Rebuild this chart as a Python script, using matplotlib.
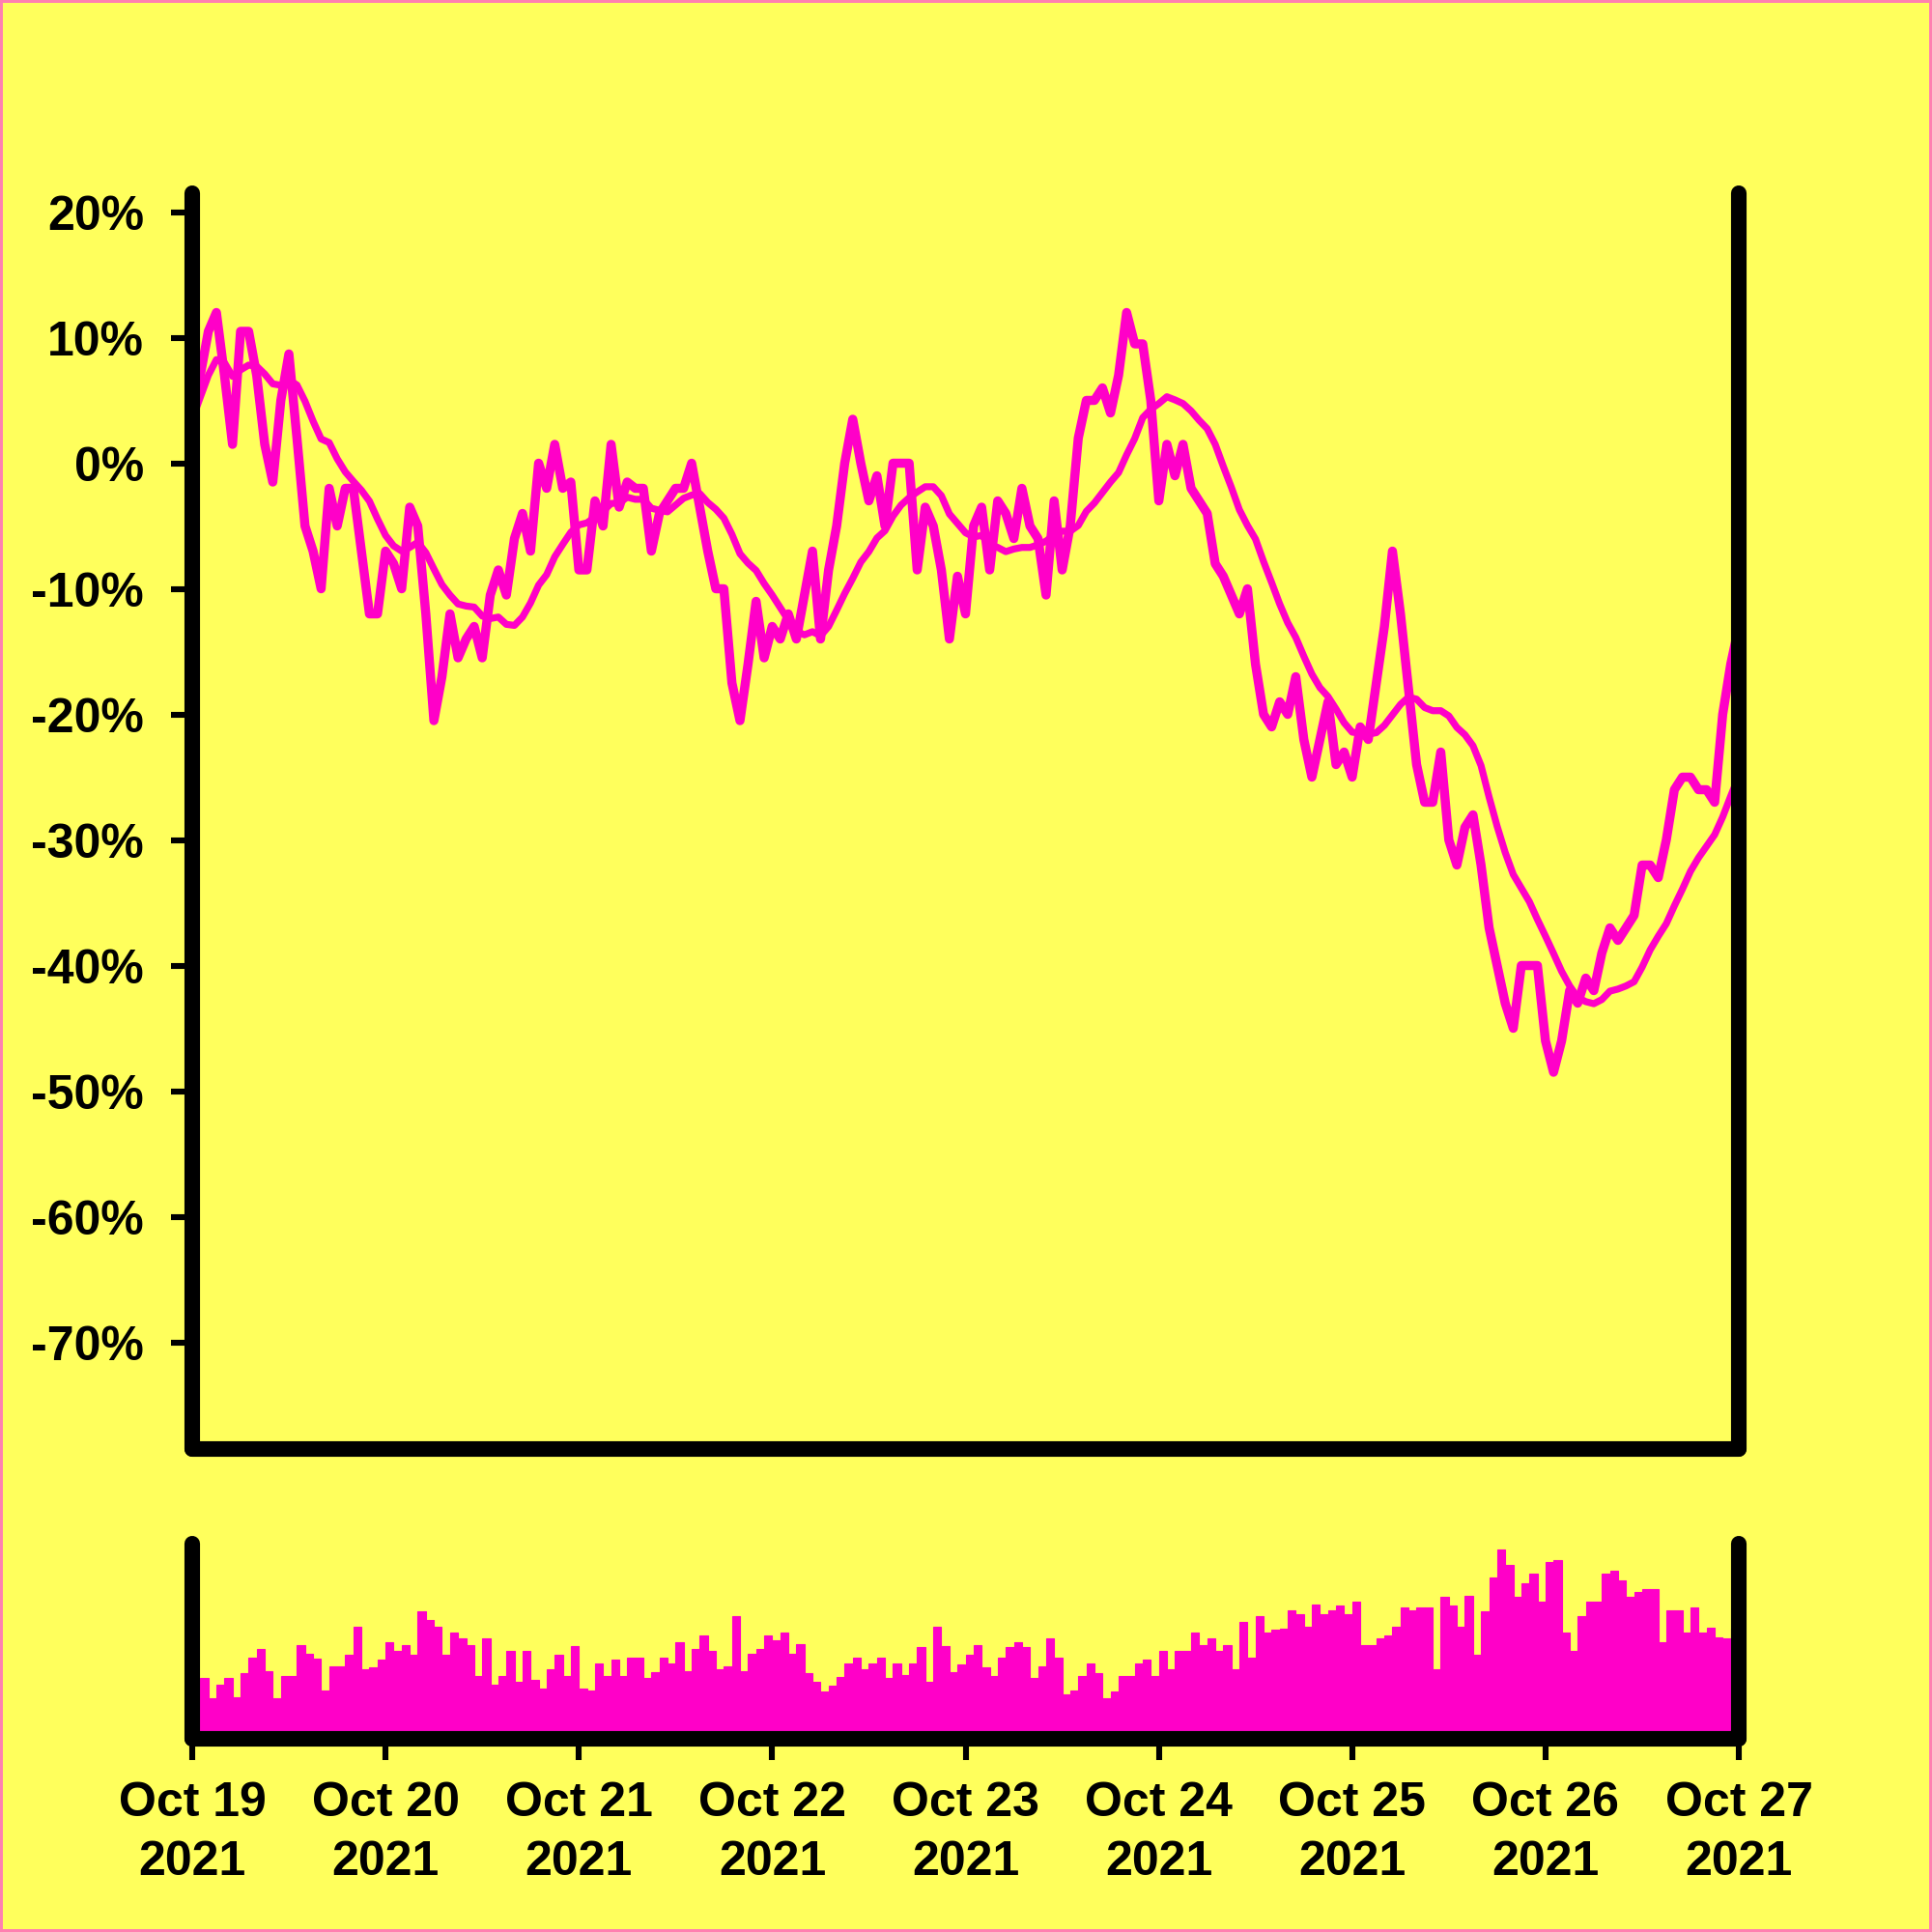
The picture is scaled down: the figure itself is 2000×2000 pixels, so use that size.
import numpy as np
import pandas as pd
import matplotlib
matplotlib.use("Agg")
import matplotlib.pyplot as plt
import matplotlib.dates as mdates

plt.rcParams['font.family'] = ['Liberation Sans', 'DejaVu Sans']
plt.rcParams['font.weight'] = 'bold'

BG = '#ffff5c'
PINK = '#ff00c8'

# -----------------------
# Data (hourly, Oct 19 00:00 -> Oct 27 00:00)
# -----------------------
start = pd.Timestamp('2021-10-19 00:00')
end = pd.Timestamp('2021-10-27 00:00')

change_pct = [
    # Oct 19
    3.5, 7, 10.5, 12, 7, 1.5, 10.5, 10.5, 7, 1.5, -1.5, 5,
    8.7, 2, -5, -7, -10, -2, -5, -2, -2, -7, -12, -12,
    -7, -8,
    # Oct 20
    -10, -3.5, -5, -12, -20.5, -17, -12, -15.5, -14, -13, -15.5,
    -10.5, -8.5, -10.5, -6, -4, -7, 0, -2, 1.5, -2, -1.5, -8.5,
    # Oct 21
    -8.5, -3, -5, 1.5, -3.5, -1.5, -2, -2, -7, -4, -3, -2,
    -2, 0, -3.5, -7, -10, -10, -17.5, -20.5, -16, -11, -15.5, -13,
    # Oct 22
    -14, -12, -14, -10.5, -7, -14, -8.5, -5, 0, 3.5, 0, -3,
    -1, -5, 0, 0, 0, -8.5, -3.5, -5, -8.5, -14, -9, -12,
    # Oct 23
    -5, -3.5, -8.5, -3, -4, -6, -2, -5, -6, -10.5, -3, -8.5,
    -5, 2, 5, 5, 6, 4, 7, 12, 9.5, 9.5, 5, -3,
    # Oct 24
    1.5, -1, 1.5, -2, -3, -4, -8, -9, -10.5, -12, -10, -16,
    -20, -21, -19, -20, -17, -22, -25, -22, -19, -24, -23, -25,
    # Oct 25
    -21, -22, -17.5, -13, -7, -12, -18, -24, -27, -27, -23, -30,
    -32, -29, -28, -32, -37, -40, -43, -45, -40, -40, -40, -46,
    # Oct 26
    -48.5, -46, -42, -43, -41, -42, -39, -37, -38, -37, -36, -32,
    -32, -33, -30, -26, -25, -25, -26, -26, -27, -20, -16, -13,
    -17,
]

volume = [
    # Oct 19
    41, 49, 33, 44, 49, 34, 53, 66, 73, 55, 33, 51,
    51, 76, 69, 65, 39, 59, 59, 68, 91, 56, 58, 64,
    # Oct 20
    78, 71, 76, 68, 103, 96, 91, 68, 86, 81, 76, 51,
    81, 44, 51, 71, 46, 71, 48, 41, 56, 68, 51, 75,
    # Oct 21
    41, 39, 61, 51, 64, 51, 66, 66, 49, 54, 66, 61,
    78, 55, 73, 84, 71, 56, 59, 99, 55, 69, 73, 84,
    # Oct 22
    80, 86, 69, 77, 53, 46, 38, 43, 50, 61, 66, 56,
    61, 66, 49, 61, 52, 61, 74, 46, 91, 75, 54, 60,
    # Oct 23
    68, 76, 58, 51, 66, 74, 78, 74, 49, 59, 81, 66,
    36, 39, 51, 61, 53, 33, 38, 51, 51, 61, 64, 51,
    # Oct 24
    71, 56, 71, 71, 86, 76, 81, 71, 76, 56, 95, 66,
    99, 86, 88, 89, 104, 101, 91, 109, 101, 104, 108, 101,
    # Oct 25
    111, 76, 76, 81, 84, 91, 106, 104, 106, 106, 56, 115,
    108, 91, 116, 68, 103, 131, 153, 141, 115, 126, 134, 111,
    # Oct 26
    143, 145, 86, 71, 99, 111, 111, 134, 136, 128, 115, 119,
    121, 121, 78, 104, 104, 86, 106, 86, 90, 82, 81, 89,
]

y_ticks = [20, 10, 0, -10, -20, -30, -40, -50, -60, -70]

price_times = pd.date_range(start, periods=len(change_pct), freq='h')
vol_times = pd.date_range(start, periods=len(volume), freq='h')

# trailing 12h moving average of the change line
ma = pd.Series(change_pct).rolling(12, min_periods=1).mean()

# -----------------------
# Figure
# -----------------------
fig = plt.figure(figsize=(10, 10), dpi=200)
fig.patch.set_facecolor(BG)
fig.patch.set_edgecolor('#ff80b0')
fig.patch.set_linewidth(1.5)

ax = fig.add_axes([0.0995, 0.25, 0.8005, 0.65])
ax_vol = fig.add_axes([0.0995, 0.1, 0.8005, 0.101])

for a in (ax, ax_vol):
    a.set_facecolor(BG)
    a.spines['top'].set_visible(False)
    for s in ('left', 'right', 'bottom'):
        a.spines[s].set_linewidth(5.8)
        a.spines[s].set_capstyle('round')
        a.spines[s].set_color('black')
    a.set_xlim(start, end)

ax.plot(price_times, change_pct, color=PINK, lw=3.4, solid_joinstyle='round')
ax.plot(price_times, ma, color=PINK, lw=2.6, solid_joinstyle='round')

ax.set_ylim(-78.5, 21.5)
ax.set_yticks(y_ticks)
ax.set_yticklabels([f"{v}%" for v in y_ticks])
ax.tick_params(axis='y', length=8, width=2.2, pad=10, labelsize=18, right=False)
ax.tick_params(axis='x', length=0, labelbottom=False)

ax_vol.bar(vol_times, volume, width=1 / 24, align='edge', color=PINK,
           edgecolor=PINK, linewidth=0.4)
ax_vol.set_ylim(0, 158)
ax_vol.set_yticks([])
ax_vol.xaxis.set_major_locator(mdates.DayLocator())
ax_vol.xaxis.set_major_formatter(mdates.DateFormatter('%b %d\n%Y'))
ax_vol.tick_params(axis='x', length=8, width=2.2, pad=8, labelsize=18)
for lbl in ax_vol.get_xticklabels():
    lbl.set_linespacing(1.4)

fig.savefig('out.png', dpi=200, facecolor=fig.get_facecolor(), edgecolor=fig.get_edgecolor())
